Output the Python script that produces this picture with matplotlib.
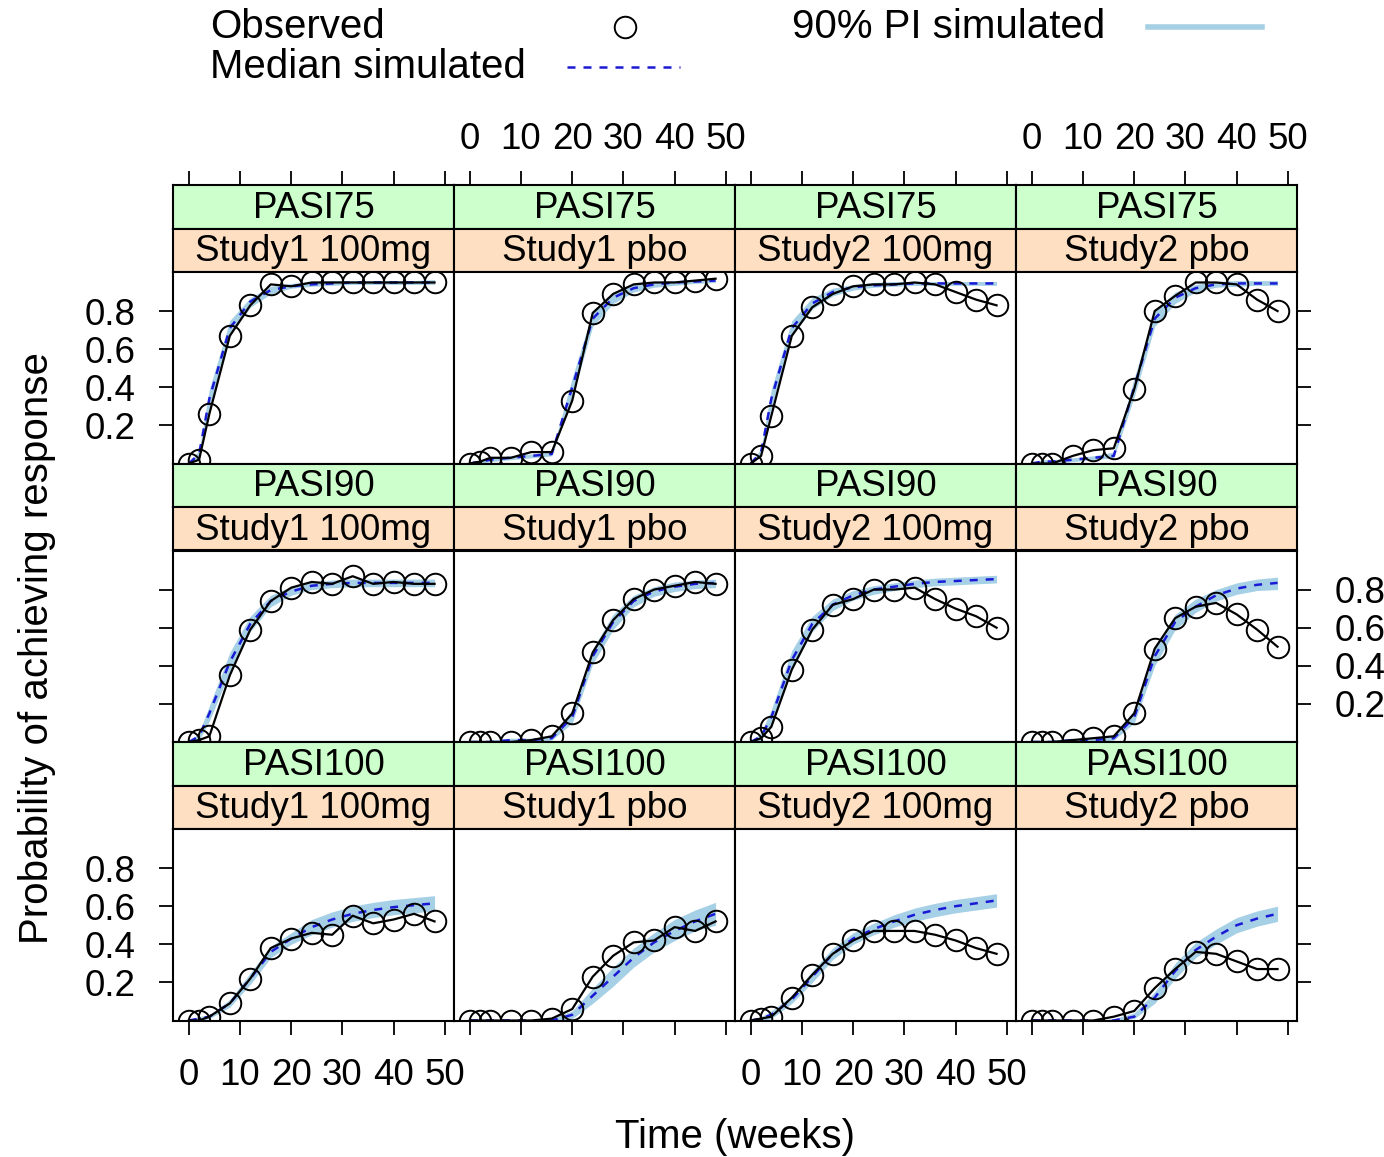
import numpy as np
import matplotlib.pyplot as plt
from matplotlib.lines import Line2D

plt.rcParams['font.family'] = ['Liberation Sans', 'DejaVu Sans']

# ---- data ----
times = [0, 2, 4, 8, 12, 16, 20, 24, 28, 32, 36, 40, 44, 48]
studies = ['Study1 100mg', 'Study1 pbo', 'Study2 100mg', 'Study2 pbo']
endpoints = ['PASI75', 'PASI90', 'PASI100']

obs_pasi75 = [
    [0.0, 0.02, 0.26, 0.67, 0.83, 0.94, 0.93, 0.95, 0.95, 0.95, 0.95, 0.95, 0.95, 0.95],
    [0.0, 0.01, 0.03, 0.03, 0.06, 0.06, 0.33, 0.79, 0.89, 0.94, 0.95, 0.95, 0.96, 0.97],
    [0.0, 0.04, 0.25, 0.67, 0.82, 0.89, 0.93, 0.94, 0.94, 0.95, 0.94, 0.90, 0.86, 0.83],
    [0.0, 0.0, 0.0, 0.04, 0.07, 0.08, 0.39, 0.80, 0.88, 0.95, 0.95, 0.94, 0.86, 0.80],
]
med_pasi75 = [
    [0.0, 0.05, 0.34, 0.71, 0.85, 0.91, 0.93, 0.94, 0.945, 0.95, 0.95, 0.95, 0.95, 0.95],
    [0.0, 0.01, 0.02, 0.03, 0.04, 0.05, 0.40, 0.76, 0.87, 0.92, 0.94, 0.95, 0.955, 0.96],
    [0.0, 0.06, 0.34, 0.71, 0.84, 0.90, 0.925, 0.935, 0.94, 0.945, 0.945, 0.945, 0.945, 0.945],
    [0.0, 0.01, 0.01, 0.02, 0.03, 0.04, 0.40, 0.76, 0.87, 0.92, 0.94, 0.945, 0.945, 0.945],
]
lo_pasi75 = [
    [0.0, 0.03, 0.29, 0.67, 0.82, 0.89, 0.92, 0.93, 0.935, 0.94, 0.94, 0.94, 0.94, 0.94],
    [0.0, 0.0, 0.01, 0.02, 0.03, 0.04, 0.35, 0.72, 0.84, 0.90, 0.925, 0.935, 0.945, 0.95],
    [0.0, 0.04, 0.29, 0.67, 0.81, 0.88, 0.91, 0.925, 0.93, 0.935, 0.935, 0.935, 0.935, 0.935],
    [0.0, 0.0, 0.0, 0.01, 0.02, 0.03, 0.35, 0.72, 0.84, 0.90, 0.925, 0.93, 0.935, 0.935],
]
hi_pasi75 = [
    [0.0, 0.07, 0.39, 0.75, 0.87, 0.93, 0.945, 0.955, 0.96, 0.96, 0.96, 0.96, 0.96, 0.965],
    [0.0, 0.02, 0.03, 0.04, 0.05, 0.06, 0.45, 0.80, 0.90, 0.94, 0.955, 0.96, 0.965, 0.97],
    [0.0, 0.08, 0.39, 0.75, 0.87, 0.92, 0.94, 0.95, 0.955, 0.955, 0.955, 0.955, 0.955, 0.955],
    [0.0, 0.02, 0.02, 0.03, 0.04, 0.06, 0.45, 0.80, 0.90, 0.94, 0.955, 0.96, 0.96, 0.96],
]

obs_pasi90 = [
    [0.0, 0.01, 0.03, 0.35, 0.59, 0.74, 0.81, 0.84, 0.83, 0.87, 0.83, 0.84, 0.83, 0.83],
    [0.0, 0.0, 0.0, 0.0, 0.01, 0.03, 0.15, 0.47, 0.64, 0.75, 0.80, 0.82, 0.84, 0.83],
    [0.0, 0.02, 0.08, 0.38, 0.59, 0.72, 0.75, 0.80, 0.80, 0.81, 0.75, 0.70, 0.66, 0.60],
    [0.0, 0.0, 0.0, 0.01, 0.02, 0.03, 0.15, 0.49, 0.65, 0.71, 0.73, 0.67, 0.59, 0.50],
]
med_pasi90 = [
    [0.0, 0.03, 0.15, 0.42, 0.62, 0.74, 0.79, 0.82, 0.83, 0.835, 0.835, 0.835, 0.835, 0.835],
    [0.0, 0.0, 0.0, 0.01, 0.01, 0.02, 0.13, 0.45, 0.63, 0.74, 0.79, 0.815, 0.83, 0.835],
    [0.0, 0.03, 0.13, 0.43, 0.62, 0.72, 0.77, 0.80, 0.815, 0.83, 0.84, 0.845, 0.85, 0.855],
    [0.0, 0.0, 0.0, 0.01, 0.01, 0.02, 0.13, 0.45, 0.63, 0.71, 0.77, 0.805, 0.825, 0.835],
]
lo_pasi90 = [
    [0.0, 0.01, 0.11, 0.37, 0.58, 0.71, 0.77, 0.80, 0.81, 0.815, 0.815, 0.815, 0.815, 0.815],
    [0.0, 0.0, 0.0, 0.0, 0.0, 0.01, 0.10, 0.41, 0.59, 0.71, 0.765, 0.79, 0.805, 0.81],
    [0.0, 0.01, 0.09, 0.38, 0.58, 0.69, 0.745, 0.775, 0.795, 0.81, 0.82, 0.825, 0.83, 0.835],
    [0.0, 0.0, 0.0, 0.0, 0.0, 0.01, 0.10, 0.40, 0.59, 0.68, 0.74, 0.775, 0.795, 0.80],
]
hi_pasi90 = [
    [0.0, 0.05, 0.19, 0.47, 0.66, 0.77, 0.815, 0.84, 0.85, 0.855, 0.855, 0.855, 0.855, 0.855],
    [0.0, 0.0, 0.01, 0.02, 0.02, 0.03, 0.17, 0.49, 0.67, 0.77, 0.815, 0.84, 0.85, 0.855],
    [0.0, 0.05, 0.17, 0.48, 0.66, 0.75, 0.795, 0.82, 0.835, 0.85, 0.86, 0.865, 0.87, 0.875],
    [0.0, 0.0, 0.01, 0.02, 0.02, 0.03, 0.17, 0.50, 0.67, 0.75, 0.80, 0.835, 0.855, 0.865],
]

obs_pasi100 = [
    [0.0, 0.0, 0.02, 0.09, 0.22, 0.38, 0.43, 0.46, 0.45, 0.55, 0.51, 0.53, 0.56, 0.52],
    [0.0, 0.0, 0.0, 0.0, 0.0, 0.01, 0.06, 0.23, 0.34, 0.41, 0.42, 0.49, 0.47, 0.52],
    [0.0, 0.01, 0.02, 0.12, 0.24, 0.35, 0.42, 0.47, 0.47, 0.47, 0.45, 0.42, 0.38, 0.35],
    [0.0, 0.0, 0.0, 0.0, 0.0, 0.02, 0.05, 0.17, 0.27, 0.36, 0.35, 0.31, 0.27, 0.27],
]
med_pasi100 = [
    [0.0, 0.01, 0.02, 0.09, 0.22, 0.36, 0.43, 0.49, 0.53, 0.56, 0.58, 0.595, 0.605, 0.615],
    [0.0, 0.0, 0.0, 0.0, 0.0, 0.0, 0.03, 0.13, 0.23, 0.33, 0.41, 0.47, 0.52, 0.56],
    [0.0, 0.01, 0.03, 0.11, 0.23, 0.35, 0.43, 0.48, 0.52, 0.555, 0.58, 0.60, 0.615, 0.63],
    [0.0, 0.0, 0.0, 0.0, 0.0, 0.0, 0.02, 0.12, 0.26, 0.37, 0.44, 0.50, 0.535, 0.56],
]
lo_pasi100 = [
    [0.0, 0.0, 0.01, 0.07, 0.19, 0.33, 0.40, 0.45, 0.49, 0.52, 0.54, 0.555, 0.565, 0.575],
    [0.0, 0.0, 0.0, 0.0, 0.0, 0.0, 0.01, 0.09, 0.18, 0.28, 0.36, 0.42, 0.47, 0.50],
    [0.0, 0.0, 0.01, 0.09, 0.20, 0.32, 0.40, 0.45, 0.49, 0.52, 0.545, 0.565, 0.58, 0.595],
    [0.0, 0.0, 0.0, 0.0, 0.0, 0.0, 0.01, 0.09, 0.22, 0.33, 0.40, 0.46, 0.495, 0.52],
]
hi_pasi100 = [
    [0.0, 0.02, 0.03, 0.11, 0.25, 0.39, 0.46, 0.53, 0.57, 0.60, 0.62, 0.635, 0.645, 0.655],
    [0.0, 0.0, 0.0, 0.0, 0.0, 0.01, 0.05, 0.17, 0.28, 0.38, 0.46, 0.53, 0.58, 0.62],
    [0.0, 0.02, 0.05, 0.13, 0.26, 0.38, 0.46, 0.51, 0.555, 0.59, 0.615, 0.635, 0.65, 0.665],
    [0.0, 0.0, 0.0, 0.0, 0.0, 0.01, 0.04, 0.15, 0.30, 0.41, 0.48, 0.54, 0.575, 0.60],
]

obs = {'PASI75': obs_pasi75, 'PASI90': obs_pasi90, 'PASI100': obs_pasi100}
med = {'PASI75': med_pasi75, 'PASI90': med_pasi90, 'PASI100': med_pasi100}
lo = {'PASI75': lo_pasi75, 'PASI90': lo_pasi90, 'PASI100': lo_pasi100}
hi = {'PASI75': hi_pasi75, 'PASI90': hi_pasi90, 'PASI100': hi_pasi100}

xticks = [0, 10, 20, 30, 40, 50]
yticks = [0.2, 0.4, 0.6, 0.8]

# ---- layout (pixels) ----
W, H = 1384, 1157
col_left = [173, 454, 735, 1016]
col_w = 281
top0 = 185
strip_h = 43.5
panel_h = 191.5
block = 2 * strip_h + panel_h

band_col = '#a6d0e6'
med_col = '#1a1ad6'
fs = 26.5
lw_frame = 1.5


def frac(x0, y0, w, h):
    return [x0 / W, 1 - (y0 + h) / H, w / W, h / H]


fig = plt.figure(figsize=(W / 100, H / 100), dpi=100)

for r, ep in enumerate(endpoints):
    ytop = top0 + r * block
    for c, st in enumerate(studies):
        x0 = col_left[c]
        # strips
        s1 = fig.add_axes(frac(x0, ytop, col_w, strip_h), facecolor='#ccffcc')
        s2 = fig.add_axes(frac(x0, ytop + strip_h, col_w, strip_h), facecolor='#ffdfc2')
        for s, lab in ((s1, ep), (s2, st)):
            s.set_xlim(-3.1, 51.8)
            s.set_ylim(0, 1)
            s.set_yticks([])
            s.text(0.5, 0.47, lab, ha='center', va='center', fontsize=fs,
                   transform=s.transAxes)
            for sp in s.spines.values():
                sp.set_linewidth(lw_frame)
            s.set_xticks(xticks)
            s.tick_params(axis='x', bottom=False, labelbottom=False, top=False,
                          labeltop=False)
        if r == 0:
            s1.tick_params(axis='x', top=True, labeltop=(c in (1, 3)),
                           direction='out', length=10, width=1.3, labelsize=fs, pad=10)

        # panel
        ax = fig.add_axes(frac(x0, ytop + 2 * strip_h, col_w, panel_h))
        ax.fill_between(times, lo[ep][c], hi[ep][c], color=band_col, lw=0)
        ax.plot(times, med[ep][c], color=med_col, lw=1.8, ls=(0, (3.2, 3.2)))
        ax.plot(times, obs[ep][c], color='black', lw=1.6, marker='o', ms=15.5,
                mfc='none', mec='black', mew=1.4)
        ax.set_xlim(-3.1, 51.8)
        ax.set_ylim(0, 1.005)
        ax.set_xticks(xticks)
        ax.set_yticks(yticks)
        ax.set_yticklabels(['0.2', '0.4', '0.6', '0.8'])
        for sp in ax.spines.values():
            sp.set_linewidth(lw_frame)
        ax.tick_params(direction='out', length=10, width=1.3, labelsize=fs, pad=17,
                       top=False, labeltop=False,
                       bottom=(r == 2), labelbottom=(r == 2 and c in (0, 2)),
                       left=(c == 0), labelleft=(c == 0 and r != 1),
                       right=(c == 3), labelright=(c == 3 and r == 1))
        ax.tick_params(axis='x', pad=17)

# axis labels
fig.text(735 / W, 1 - 1137 / H, 'Time (weeks)', ha='center', va='center', fontsize=29)
fig.text(37 / W, 1 - 648 / H, 'Probability of achieving response', ha='center',
         va='center', rotation=90, fontsize=29)

# legend
ly1, ly2 = 1 - 27 / H, 1 - 67 / H
lfs = 29
fig.text(210 / W, ly1, 'Observed', ha='left', va='center', fontsize=lfs)
fig.text(792 / W, ly1, '90% PI simulated', ha='left', va='center', fontsize=lfs)
fig.text(210 / W, ly2, 'Median simulated', ha='left', va='center', fontsize=lfs)
fig.add_artist(Line2D([625 / W], [ly1], transform=fig.transFigure, marker='o', ms=15.5,
                      mfc='none', mec='black', mew=1.4, ls='none'))
fig.add_artist(Line2D([1148 / W, 1262 / W], [ly1, ly1], transform=fig.transFigure,
                      color='#a6d0e4', lw=4))
fig.add_artist(Line2D([567 / W, 680 / W], [ly2, ly2], transform=fig.transFigure,
                      color=med_col, lw=1.8, ls=(0, (3.2, 3.2))))

fig.savefig('out.png', dpi=100)
